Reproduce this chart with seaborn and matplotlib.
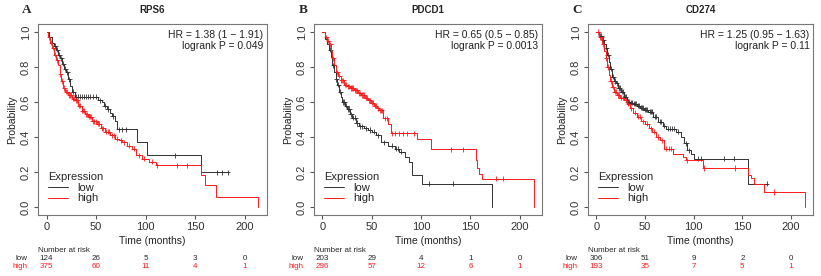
import numpy as np
import pandas as pd
import seaborn as sns
import matplotlib.pyplot as plt
from matplotlib.lines import Line2D

# panel info
genes = ['RPS6', 'PDCD1', 'CD274']
letters = ['A', 'B', 'C']
hr_text = ['HR = 1.38 (1 \u2212 1.91)', 'HR = 0.65 (0.5 \u2212 0.85)', 'HR = 1.25 (0.95 \u2212 1.63)']
p_text = ['logrank P = 0.049', 'logrank P = 0.0013', 'logrank P = 0.11']

# number at risk at 0, 50, 100, 150, 200 months
risk_times = [0, 50, 100, 150, 200]
risk_low = [[124, 26, 5, 3, 0], [203, 29, 4, 1, 0], [306, 51, 9, 2, 0]]
risk_high = [[375, 60, 11, 4, 1], [296, 57, 12, 6, 1], [193, 35, 7, 5, 1]]

# KM step curves (time, survival after step)
a_low_t = [0, 3, 6, 8, 10, 12, 14, 16, 18, 20, 22, 24, 26, 29, 52, 56, 58, 61, 64, 66, 69, 71, 91, 101, 156, 183]
a_low_s = [1.0, 0.97, 0.94, 0.92, 0.90, 0.87, 0.85, 0.82, 0.79, 0.77, 0.73, 0.69, 0.66, 0.63, 0.61, 0.60, 0.58, 0.56,
           0.54, 0.52, 0.49, 0.445, 0.37, 0.296, 0.197, 0.197]
a_low_c = [9, 11, 13, 15, 17, 19, 21, 23, 27, 30, 32, 34, 36, 38, 40, 42, 44, 47, 50, 54, 59, 62, 67, 73, 76, 80,
           130, 172, 177, 183]
a_high_t = [0, 2, 4, 6, 8, 10, 12, 13.5, 15, 17, 19, 22, 26, 29, 32, 35.5, 39, 42, 46, 51, 55, 59, 64, 69, 73, 76,
            81, 86, 90, 96, 103, 111, 156, 160, 171, 214, 214]
a_high_s = [1.0, 0.97, 0.94, 0.91, 0.87, 0.84, 0.81, 0.76, 0.72, 0.68, 0.66, 0.64, 0.62, 0.61, 0.58, 0.55, 0.53, 0.515,
            0.49, 0.477, 0.45, 0.43, 0.41, 0.39, 0.38, 0.37, 0.35, 0.334, 0.296, 0.277, 0.258, 0.239, 0.18, 0.124,
            0.057, 0.057, 0.0]
a_high_c = [3, 5, 7, 9, 11, 14, 16, 18, 20, 21, 23, 24, 25, 27, 28, 30, 31, 33, 34, 36, 37, 38, 40, 41, 43, 44, 45,
            47, 48, 50, 52, 53, 56, 57, 60, 62, 63, 66, 68, 71, 75, 78, 83, 88, 93, 98, 106, 112, 132, 142]

b_low_t = [0, 3, 5, 7, 9, 10, 12, 13.5, 15, 17, 19, 20, 23, 25, 28, 30, 34, 37, 42, 46, 50, 54, 59, 66, 74, 78, 84,
           88, 91, 101, 172, 172]
b_low_s = [1.0, 0.96, 0.93, 0.90, 0.86, 0.81, 0.77, 0.73, 0.70, 0.66, 0.63, 0.60, 0.58, 0.56, 0.53, 0.51, 0.48, 0.46,
           0.45, 0.44, 0.43, 0.41, 0.37, 0.35, 0.334, 0.315, 0.286, 0.258, 0.18, 0.134, 0.134, 0.0]
b_low_c = [8, 11, 14, 16, 18, 21, 22, 24, 26, 27, 29, 31, 33, 35, 38, 40, 44, 48, 52, 56, 62, 70, 75, 77, 80, 108, 132]
b_high_t = [0, 3, 5, 7, 9, 10, 12, 13.5, 16, 18.5, 22, 25, 28, 32, 36, 39, 43, 46, 49, 52, 55, 57, 61, 66, 69, 96,
            110, 156, 157, 159, 162, 214, 214]
b_high_s = [1.0, 0.97, 0.95, 0.93, 0.89, 0.85, 0.81, 0.77, 0.75, 0.725, 0.70, 0.69, 0.68, 0.668, 0.65, 0.64, 0.625,
            0.61, 0.595, 0.58, 0.565, 0.553, 0.506, 0.477, 0.42, 0.39, 0.33, 0.267, 0.22, 0.19, 0.162, 0.162, 0.0]
b_high_c = [4, 6, 8, 11, 14, 15, 17, 19, 20, 21, 23, 24, 26, 27, 29, 30, 31, 33, 34, 35, 37, 38, 40, 41, 42, 44, 45,
            47, 48, 50, 51, 53, 54, 56, 58, 59, 60, 63, 65, 71, 74, 78, 82, 86, 93, 130, 142, 176, 183]

c_low_t = [0, 3, 6, 8, 9.5, 11, 13, 14.5, 16, 18, 20, 22, 25, 28, 31, 35, 38, 42, 45, 49, 53, 58, 63, 68, 72, 82, 87,
           90, 93, 97, 100, 156, 175]
c_low_s = [1.0, 0.98, 0.955, 0.93, 0.91, 0.87, 0.83, 0.79, 0.745, 0.72, 0.706, 0.68, 0.658, 0.63, 0.60, 0.595, 0.59,
           0.58, 0.567, 0.555, 0.544, 0.515, 0.487, 0.465, 0.448, 0.43, 0.40, 0.363, 0.324, 0.30, 0.277, 0.134, 0.134]
c_low_c = [4, 5, 7, 10, 12, 15, 17, 19, 21, 23, 24, 26, 27, 29, 30, 32, 33, 34, 36, 37, 39, 40, 41, 43, 44, 46, 47,
           48, 50, 51, 52, 55, 56, 57, 60, 61, 65, 66, 70, 74, 76, 78, 80, 84, 92, 95, 104, 108, 131, 141, 175]
c_high_t = [0, 3, 6, 8, 9.5, 11, 13, 14.5, 16, 18, 21, 24, 28, 31, 35, 38, 41.5, 46, 50, 54, 57, 61, 65, 70, 79, 89,
            92, 110, 156, 159, 162, 172, 214, 214]
c_high_s = [1.0, 0.97, 0.93, 0.89, 0.85, 0.80, 0.755, 0.72, 0.687, 0.66, 0.64, 0.625, 0.61, 0.59, 0.563, 0.54, 0.515,
            0.49, 0.477, 0.45, 0.43, 0.40, 0.38, 0.334, 0.305, 0.286, 0.267, 0.223, 0.185, 0.165, 0.134, 0.086,
            0.086, 0.0]
c_high_c = [2, 4, 5, 7, 10, 12, 15, 17, 19, 20, 22, 23, 25, 27, 30, 33, 36, 40, 43, 45, 48, 52, 56, 59, 63, 67, 72,
            75, 77, 93, 111, 142, 183]

curves = [
    (a_low_t, a_low_s, a_low_c, a_high_t, a_high_s, a_high_c),
    (b_low_t, b_low_s, b_low_c, b_high_t, b_high_s, b_high_c),
    (c_low_t, c_low_s, c_low_c, c_high_t, c_high_s, c_high_c),
]

sns.set_style('white')
plt.rcParams['font.family'] = ['Liberation Sans', 'DejaVu Sans']

pal = {'low': '#303030', 'high': '#ff1a1a'}
lefts = [38, 314, 588]
rights = [267, 542, 813]
W, H = 821, 276

fig = plt.figure(figsize=(8.21, 2.76), dpi=100)


def censor_y(t, s, c):
    idx = np.searchsorted(np.array(t), np.array(c), side='right') - 1
    return np.array(s)[idx]


for i in range(3):
    lt, ls, lc, ht, hs, hc = curves[i]
    ax = fig.add_axes([lefts[i] / W, 1 - 215 / H, (rights[i] - lefts[i]) / W, (215 - 24) / H])

    df_line = pd.concat([
        pd.DataFrame({'time': lt, 'surv': ls, 'group': 'low'}),
        pd.DataFrame({'time': ht, 'surv': hs, 'group': 'high'}),
    ])
    df_cens = pd.concat([
        pd.DataFrame({'time': lc, 'surv': censor_y(lt, ls, lc), 'group': 'low'}),
        pd.DataFrame({'time': hc, 'surv': censor_y(ht, hs, hc), 'group': 'high'}),
    ])

    sns.lineplot(data=df_line, x='time', y='surv', hue='group', palette=pal, estimator=None,
                 sort=False, drawstyle='steps-post', linewidth=0.7, legend=False, ax=ax)
    sns.scatterplot(data=df_cens, x='time', y='surv', hue='group', palette=pal, marker='+',
                    s=14, linewidth=0.6, legend=False, ax=ax)

    ax.set_xlim(-8.6, 222.6)
    ax.set_ylim(-0.046, 1.046)
    ax.set_xticks([0, 50, 100, 150, 200])
    ax.set_yticks([0.0, 0.2, 0.4, 0.6, 0.8, 1.0])
    ax.set_yticklabels(['0.0', '0.2', '0.4', '0.6', '0.8', '1.0'], rotation=90, va='center')
    ax.tick_params(axis='both', labelsize=8, length=3, pad=2, color='#555555', labelcolor='#333333')
    ax.tick_params(axis='both', bottom=True, left=True)
    for sp in ax.spines.values():
        sp.set_color('#777777')
        sp.set_linewidth(0.8)
    ax.set_xlabel('Time (months)', fontsize=7.5, labelpad=3, color='#222222')
    ax.set_ylabel('Probability', fontsize=7.5, labelpad=3, color='#222222')

    ax.text(0.985, 0.97, hr_text[i] + '\n' + p_text[i], transform=ax.transAxes, ha='right', va='top',
            fontsize=7.5, color='#222222', linespacing=1.15)

    handles = [Line2D([], [], color=pal['low'], lw=0.7), Line2D([], [], color=pal['high'], lw=0.7)]
    leg = ax.legend(handles, ['low', 'high'], title='Expression', loc='lower left',
                    bbox_to_anchor=(0.01, 0.02), frameon=False, fontsize=8, title_fontsize=8,
                    handlelength=1.8, handletextpad=0.8, labelspacing=0.05, borderpad=0.2,
                    alignment='left')

    # title and panel letter
    fig.text((lefts[i] + rights[i]) / 2 / W, 1 - 10 / H, genes[i], ha='center', va='center',
             fontsize=7, fontweight='bold')
    fig.text((lefts[i] - 11) / W, 1 - 10 / H, letters[i], ha='center', va='center',
             fontsize=9.5, fontweight='bold', family='Liberation Serif')

    # number at risk table
    tr = ax.get_xaxis_transform()
    ax.text(0, -0.187, 'Number at risk', transform=ax.transAxes, ha='left', va='center', fontsize=5.8)
    ax.text(-0.045, -0.23, 'low', transform=ax.transAxes, ha='right', va='center', fontsize=5.8)
    ax.text(-0.045, -0.27, 'high', transform=ax.transAxes, ha='right', va='center', fontsize=5.8,
            color=pal['high'])
    for xt, nl, nh in zip(risk_times, risk_low[i], risk_high[i]):
        ax.text(xt, -0.23, str(nl), transform=tr, ha='center', va='center', fontsize=5.8)
        ax.text(xt, -0.27, str(nh), transform=tr, ha='center', va='center', fontsize=5.8, color=pal['high'])

plt.savefig('out.png', dpi=100)
